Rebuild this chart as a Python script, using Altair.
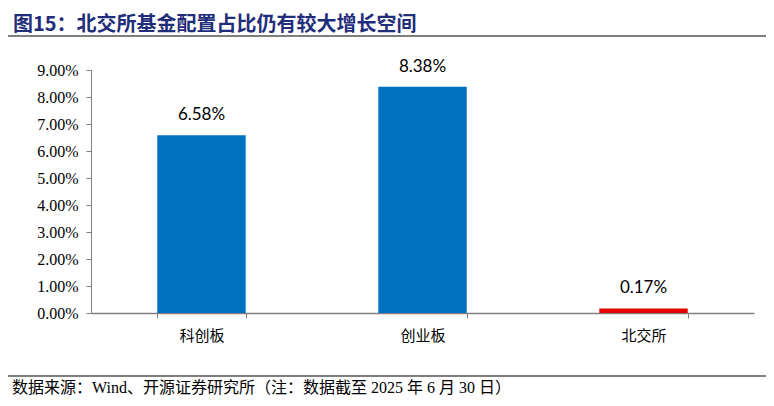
import altair as alt
import pandas as pd

categories = ["科创板", "创业板", "北交所"]
values = [0.0658, 0.0838, 0.0017]
colors = ["#0070C0", "#0070C0", "#E50000"]
y_ticks = [0.0, 0.01, 0.02, 0.03, 0.04, 0.05, 0.06, 0.07, 0.08, 0.09]

title_text = "图15：北交所基金配置占比仍有较大增长空间"
source_text = "数据来源：Wind、开源证券研究所（注：数据截至 2025 年 6 月 30 日）"

df = pd.DataFrame({"cat": categories, "val": values, "color": colors})

W, H = 663, 243

x_enc = alt.X("cat:N", sort=categories,
              scale=alt.Scale(paddingInner=0.6, paddingOuter=0.3),
              axis=alt.Axis(title=None, labelAngle=0, labelFont="Noto Sans CJK SC",
                            labelFontSize=15, labelColor="#000000", labelPadding=10,
                            domainColor="#808080", domainWidth=1.5,
                            tickBand="extent", tickColor="#808080", tickSize=5,
                            ticks=True, grid=False))
y_enc = alt.Y("val:Q",
              scale=alt.Scale(domain=[0, 0.09], nice=False),
              axis=alt.Axis(title=None, values=y_ticks, format=".2%",
                            labelFont="Liberation Serif", labelFontSize=16,
                            labelColor="#000000", labelPadding=8, labelOverlap=False,
                            domainColor="#808080", tickColor="#808080",
                            tickSize=5, grid=False))

bars = alt.Chart(df).mark_bar().encode(
    x=x_enc, y=y_enc,
    color=alt.Color("color:N", scale=None),
)

labels = alt.Chart(df).mark_text(dy=-20, font="Lato", fontSize=17, color="#000000").encode(
    x=x_enc,
    y=y_enc,
    text=alt.Text("val:Q", format=".2%"),
)

source = alt.Chart(pd.DataFrame({"t": [source_text]})).mark_text(
    align="left", baseline="middle", font="Liberation Serif, Noto Sans CJK SC",
    fontSize=16, color="#000000"
).encode(x=alt.value(-79), y=alt.value(318), text="t:N")

top_rule = alt.Chart(pd.DataFrame({"a": [0]})).mark_rule(color="#555555", strokeWidth=1.5).encode(
    x=alt.value(-83), x2=alt.value(W + 12), y=alt.value(-34))
bot_rule = alt.Chart(pd.DataFrame({"a": [0]})).mark_rule(color="#555555", strokeWidth=1.5).encode(
    x=alt.value(-83), x2=alt.value(W + 12), y=alt.value(306))

chart = alt.layer(bars, labels, source, top_rule, bot_rule).properties(
    width=W, height=H,
    title=alt.TitleParams(text=title_text, anchor="start", frame="group", dx=-78,
                          offset=0, font="Noto Sans CJK SC", fontWeight="bold",
                          fontSize=20, color="#1F2D7A"),
    autosize=alt.AutoSizeParams(type="none"),
    padding={"left": 83, "top": 62, "right": 12, "bottom": 85},
).configure_view(stroke=None)

chart.save("out.html", embed_options={"renderer": "svg", "actions": False})
